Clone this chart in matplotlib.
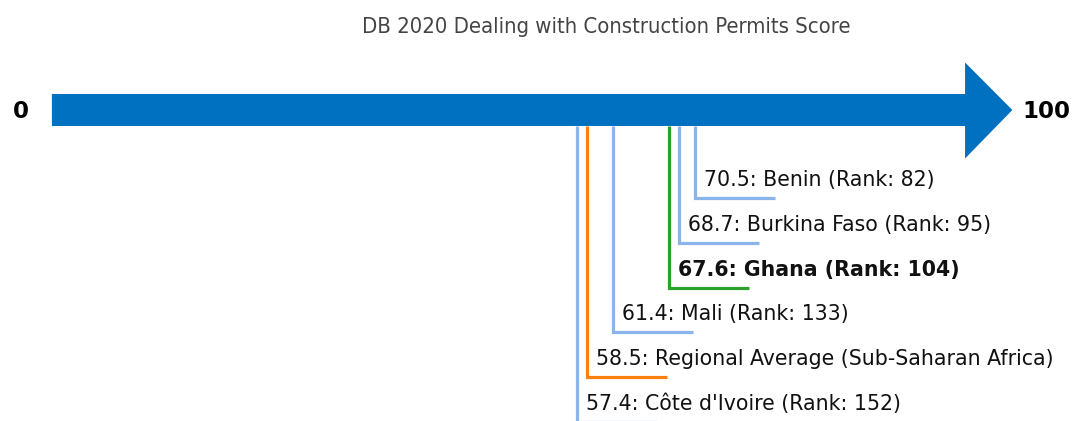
import matplotlib
matplotlib.use('Agg')
from matplotlib import pyplot as plt
from matplotlib import font_manager


# 데이터
names = ['Benin', 'Burkina Faso', 'Ghana', 'Mali', 'Regional Average (Sub-Saharan Africa)', "Côte d'Ivoire"]
scores = [70.5, 68.7, 67.6, 61.4, 58.5, 57.4]
ranks = [82, 95, 104, 133, None, 152]
colors = ['#8ab4ec', '#8ab4ec', '#2ca02c', '#8ab4ec', '#ff7f0e', '#8ab4ec']
bold = [False, False, True, False, False, False]

TITLE = 'DB 2020 Dealing with Construction Permits Score'
ARROW_COLOR = '#0070c0'

# 좌표 설정 (x: 점수, y: 픽셀 단위)
W, H = 1072, 421
px_per_unit = 9.01
x_zero = 60

fig = plt.figure(figsize=(W / 100, H / 100), dpi=100)
ax = fig.add_axes([0, 0, 1, 1])
ax.set_xlim(-x_zero / px_per_unit, (W - x_zero) / px_per_unit)
ax.set_ylim(H, 0)
ax.axis('off')

# 화살표
lo, hi = 0, 100
shaft_top, shaft_bot = 94, 126
head_top, head_bot, mid = 62.5, 158.5, 110
start = lo - 0.9
head_base = hi + 0.45
tip = hi + 5.7
ax.fill([start, head_base, head_base, tip, head_base, head_base, start],
        [shaft_top, shaft_top, head_top, mid, head_bot, shaft_bot, shaft_bot],
        color=ARROW_COLOR, lw=0)

ax.text(lo - 4.35, mid + 1, str(lo), ha='center', va='center', fontsize=16.5, fontweight='bold')
ax.text(hi + 9.45, mid + 1, str(hi), ha='center', va='center', fontsize=16.5, fontweight='bold')

# 항목 라인과 라벨
first_level, step = 198.3, 44.7
seg_len = 8.9
for i, (name, score, rank, c, b) in enumerate(zip(names, scores, ranks, colors, bold)):
    level = first_level + step * i
    ax.plot([score, score, score + seg_len], [shaft_bot, level, level],
            color=c, lw=2.3, solid_joinstyle='miter', solid_capstyle='butt')
    label = f'{score}: {name}' if rank is None else f'{score}: {name} (Rank: {rank})'
    ax.text(score + 1.0, level - 18, label, ha='left', va='center', fontsize=14.8,
            fontweight='bold' if b else 'normal', color='#111111')

# 제목: 좁은 글꼴이 있으면 사용
names_avail = {f.name for f in font_manager.fontManager.ttflist}
if 'DejaVu Sans Condensed' in names_avail:
    title_font = dict(family='DejaVu Sans Condensed', fontsize=15.8)
else:
    title_font = dict(family='DejaVu Sans', fontstretch='condensed', fontsize=15.8)
fig.text(606 / W, 1 - 27 / H, TITLE, ha='center', va='center', color='#444444', **title_font)

fig.savefig('out.png', dpi=100)
